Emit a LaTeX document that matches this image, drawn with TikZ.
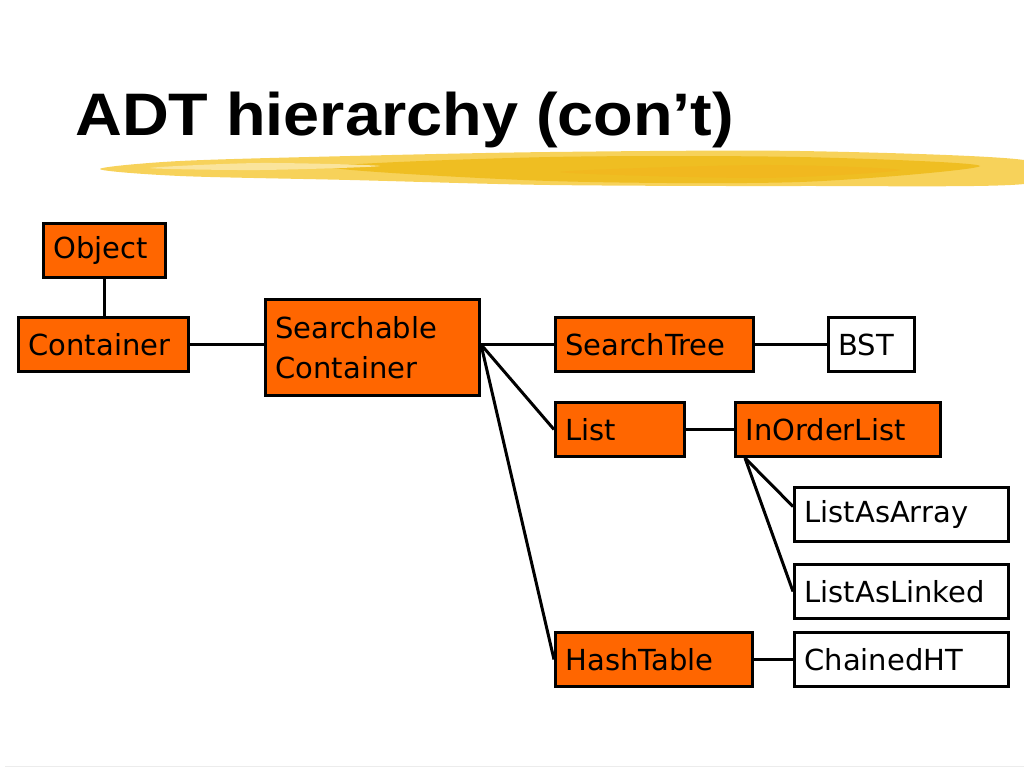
\documentclass[tikz,border=0pt]{standalone}
\usepackage{fontspec}
\setmainfont{DejaVu Sans}
\newfontfamily\titlefont{Liberation Sans}
\definecolor{boxorange}{HTML}{FF6600}
\definecolor{brushgold}{HTML}{EFBE22}
\definecolor{brushlight}{HTML}{F7D25A}

\begin{document}
\begin{tikzpicture}[x=1pt, y=-1pt,
	class/.style={draw=black, line width=3pt, fill=boxorange, anchor=north west, inner xsep=10pt, inner ysep=0pt, align=left, minimum height=54pt, font=\fontsize{29}{40}\selectfont},
	leaf/.style={class, fill=white},
	link/.style={line width=3pt}]
	\useasboundingbox (0,0) rectangle (1024,768);
	% title and brush stroke
	\node[anchor=base west, inner sep=0pt, xscale=1.08, font=\titlefont\bfseries\fontsize{60}{60}\selectfont] (title) at (75,135) {ADT hierarchy (con’t)};
	\fill[brushlight] plot[smooth cycle] coordinates {(100,169) (180,161) (350,156) (550,152) (800,151) (1024,160) (1024,184) (800,186) (550,185) (350,180) (180,176)};
	\fill[brushgold] plot[smooth cycle] coordinates {(330,167) (550,157) (800,157) (980,166) (800,182) (550,181)};
	\fill[brushgold!90!orange] plot[smooth cycle] coordinates {(560,172) (760,165) (900,170) (760,178)};
	\fill[brushlight!60!white] plot[smooth cycle] coordinates {(150,168) (260,163) (380,166) (260,170)};
	\draw[gray!15, line width=1pt] (5,766) -- (1024,766);
	% classes
	\node[class, text width=102pt] (obj) at (42,222) {Object};
	\node[class, text width=150pt] (cont) at (17,316) {Container};
	\node[class, text width=194pt, minimum height=96pt] (scont) at (264,298) {Searchable\\Container};
	\node[class, text width=178pt] (stree) at (554,316) {SearchTree};
	\node[leaf, text width=66pt] (bst) at (827,316) {BST};
	\node[class, text width=109pt] (list) at (554,401) {List};
	\node[class, text width=185pt] (iol) at (734,401) {InOrderList};
	\node[leaf, text width=194pt] (laa) at (793,486) {ListAsArray};
	\node[leaf, text width=194pt] (lal) at (793,563) {ListAsLinked};
	\node[class, text width=177pt] (ht) at (554,631) {HashTable};
	\node[leaf, text width=194pt] (cht) at (793,631) {ChainedHT};
	% links
	\coordinate (hub) at (scont.east |- cont.east);
	\coordinate (foot) at ([xshift=11pt]iol.south west);
	\draw[link] (obj.south) -- (obj.south |- cont.north);
	\draw[link] (cont.east) -- (cont.east -| scont.west);
	\draw[link] (hub) -- (stree.west);
	\draw[link] (hub) -- (list.west);
	\draw[link] (hub) -- (ht.west);
	\draw[link] (stree.east) -- (bst.west);
	\draw[link] (list.east) -- (iol.west);
	\draw[link] (foot) -- ([yshift=8pt]laa.west);
	\draw[link] (foot) -- (lal.west);
	\draw[link] (ht.east) -- (cht.west);
\end{tikzpicture}
\end{document}
